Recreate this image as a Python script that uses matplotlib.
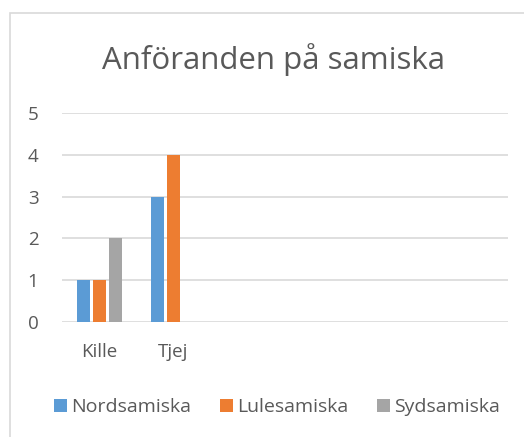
import numpy as np
import matplotlib
matplotlib.use("Agg")
import matplotlib.pyplot as plt
from matplotlib.patches import Rectangle, Patch

plt.rcParams['font.family'] = ['Open Sans', 'DejaVu Sans']

title = "Anföranden på samiska"
categories = ["Kille", "Tjej", "", "", "", ""]
series_names = ["Nordsamiska", "Lulesamiska", "Sydsamiska"]
nordsamiska = [1, 3, 0, 0, 0, 0]
lulesamiska = [1, 4, 0, 0, 0, 0]
sydsamiska = [2, 0, 0, 0, 0, 0]
yticks = [0, 1, 2, 3, 4, 5]

colors = ["#5B9BD5", "#ED7D31", "#A5A5A5"]
text_col = "#595959"

fig = plt.figure(figsize=(5.24, 4.37), dpi=100)
# chart border
fig.patches.append(Rectangle((10 / 524, -0.05), 1.0, (437 - 13) / 437 + 0.05,
                             transform=fig.transFigure, fill=False,
                             edgecolor="#D9D9D9", linewidth=1.2))

ax = fig.add_axes([62 / 524, (437 - 322) / 437, (508 - 62) / 524, (322 - 113) / 437])

x = np.arange(len(categories))
w = 13 / 74
step = 16 / 74
for i, vals in enumerate([nordsamiska, lulesamiska, sydsamiska]):
    vals = np.array(vals, dtype=float)
    mask = vals > 0
    ax.bar(x[mask] + (i - 1) * step, vals[mask], width=w, color=colors[i], zorder=3)

ax.set_xlim(-0.5, len(categories) - 0.5)
ax.set_ylim(0, 5)
ax.set_yticks(yticks)
ax.set_xticks(x)
ax.set_xticklabels(categories)
ax.grid(axis="y", color="#D9D9D9", linewidth=1.2, zorder=0)
for s in ax.spines.values():
    s.set_visible(False)
ax.tick_params(length=0, labelsize=13.5, colors=text_col)
ax.tick_params(axis="y", pad=17)
ax.tick_params(axis="x", pad=15)

fig.text(273 / 524, 1 - 60 / 437, title, ha="center", va="center",
         fontsize=22.5, color=text_col)

handles = [Patch(facecolor=c) for c in colors]
fig.legend(handles, series_names, loc="center", bbox_to_anchor=(277 / 524, 1 - 407 / 437),
           ncol=3, frameon=False, fontsize=14, labelcolor=text_col,
           handlelength=0.65, handleheight=0.65, handletextpad=0.2, columnspacing=1.5)

fig.savefig("out.png", dpi=100)
